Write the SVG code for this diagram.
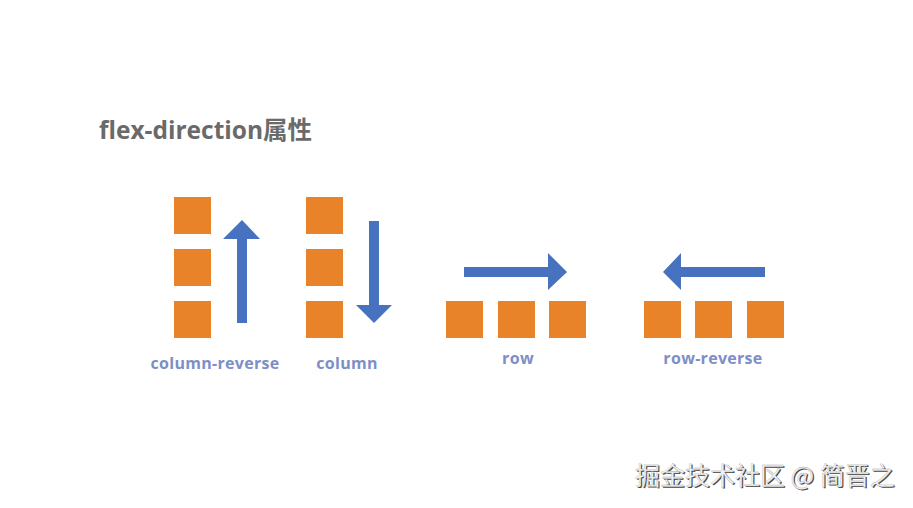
<svg xmlns="http://www.w3.org/2000/svg" width="913" height="508" viewBox="0 0 913 508">
<style>
.box{fill:#e9832a}
.arr{fill:#4672bf}
.lbl{font-family:"Open Sans","Liberation Sans",sans-serif;font-weight:bold;font-size:16px;letter-spacing:0.3px;fill:#7e8ec8;text-anchor:middle}
.title{font-family:"Open Sans","Noto Sans CJK SC",sans-serif;font-weight:bold;font-size:24.5px;fill:#6a6a6a}
.wm{font-family:"Noto Sans CJK SC",sans-serif;font-size:25px}
</style>
<rect width="913" height="508" fill="#ffffff"/>
<text class="title" x="99" y="139">flex-direction属性</text>
<g id="column-reverse">
<rect class="box" x="174" y="197" width="37" height="37"/>
<rect class="box" x="174" y="249" width="37" height="37"/>
<rect class="box" x="174" y="301" width="37" height="37"/>
<text class="lbl" x="215" y="369">column-reverse</text>
</g>
<g id="column">
<rect class="box" x="306" y="197" width="37" height="37"/>
<rect class="box" x="306" y="249" width="37" height="37"/>
<rect class="box" x="306" y="301" width="37" height="37"/>
<text class="lbl" x="347" y="369">column</text>
</g>
<g id="row">
<rect class="box" x="446" y="301" width="37" height="37"/>
<rect class="box" x="498" y="301" width="37" height="37"/>
<rect class="box" x="549" y="301" width="37" height="37"/>
<text class="lbl" x="518" y="364">row</text>
</g>
<g id="row-reverse">
<rect class="box" x="644" y="301" width="37" height="37"/>
<rect class="box" x="695" y="301" width="37" height="37"/>
<rect class="box" x="747" y="301" width="37" height="37"/>
<text class="lbl" x="713" y="364">row-reverse</text>
</g>
<g id="connectors">
<polygon class="arr" points="237,323 247,323 247,239 260,239 242,220 223,239 237,239"/>
<polygon class="arr" points="369,221 379,221 379,305 392,305 374,323 356,305 369,305"/>
<polygon class="arr" points="464,267 548,267 548,253 567,272 548,290 548,277 464,277"/>
<polygon class="arr" points="765,267 681,267 681,253 663,272 681,290 681,277 765,277"/>
</g>
<g id="watermark">
<text class="wm" x="636.2" y="486.2" fill="#444444">掘金技术社区 @ 简晋之</text>
<text class="wm" x="635" y="485" fill="#f2f2f2" stroke="#aaaaaa" stroke-width="0.3">掘金技术社区 @ 简晋之</text>
</g>
</svg>
